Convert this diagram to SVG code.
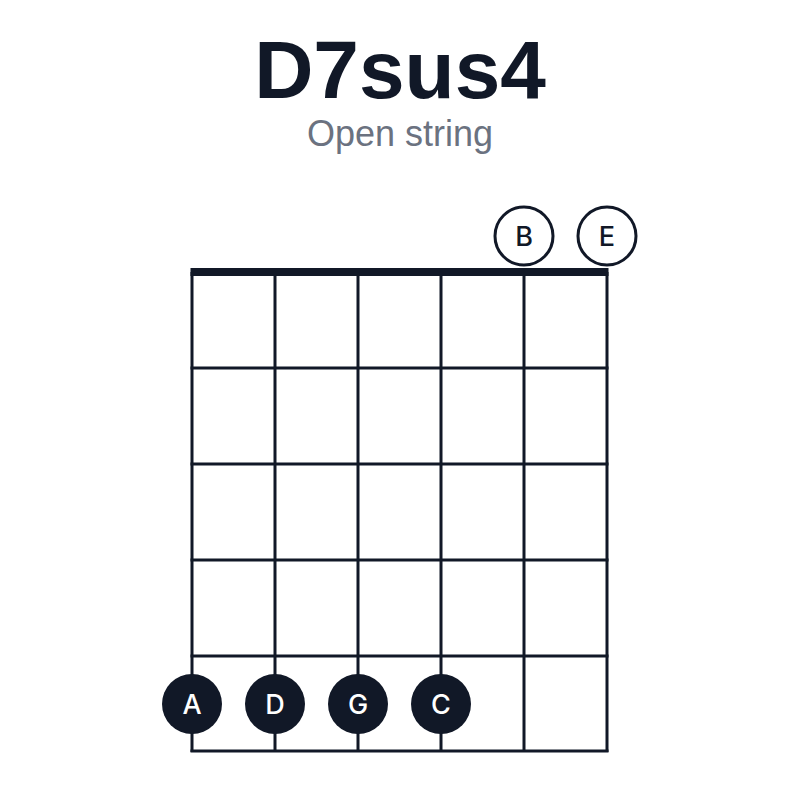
<svg xmlns="http://www.w3.org/2000/svg" width="800" height="800" viewBox="0 0 800 800">
<style>
.t{font-family:"Liberation Sans",Arial,sans-serif;text-anchor:middle}
.n{font-family:Inter,"Liberation Sans",Arial,sans-serif;text-anchor:middle;font-weight:500;font-size:27px}
.grid line{stroke:#111827;stroke-width:3}
.open circle{fill:#fff;stroke:#111827;stroke-width:3}
.open text{fill:#111827}
.fret circle{fill:#111827}
.fret text{fill:#fff}
</style>
<rect width="800" height="800" fill="#fff"/>
<text class="t" x="400" y="98" font-size="82" font-weight="bold" fill="#111827">D7sus4</text>
<text class="t" x="400" y="146" font-size="36" fill="#6b7280">Open string</text>
<g id="grid" class="grid">
<line x1="192" y1="272" x2="192" y2="752"/>
<line x1="275" y1="272" x2="275" y2="752"/>
<line x1="358" y1="272" x2="358" y2="752"/>
<line x1="441" y1="272" x2="441" y2="752"/>
<line x1="524" y1="272" x2="524" y2="752"/>
<line x1="607" y1="272" x2="607" y2="752"/>
<line x1="190.5" y1="368" x2="608.5" y2="368"/>
<line x1="190.5" y1="464" x2="608.5" y2="464"/>
<line x1="190.5" y1="560" x2="608.5" y2="560"/>
<line x1="190.5" y1="656" x2="608.5" y2="656"/>
<line x1="190.5" y1="751" x2="608.5" y2="751"/>
<line x1="190.5" y1="272" x2="608.5" y2="272" style="stroke-width:8"/>
</g>
<g id="open-B" class="open"><circle cx="524" cy="236" r="29"/><text class="n" x="524" y="246">B</text></g>
<g id="open-E" class="open"><circle cx="607" cy="236" r="29"/><text class="n" x="607" y="246">E</text></g>
<g id="note-A" class="fret"><circle cx="192" cy="704" r="30"/><text class="n" x="192" y="714">A</text></g>
<g id="note-D" class="fret"><circle cx="275" cy="704" r="30"/><text class="n" x="275" y="714">D</text></g>
<g id="note-G" class="fret"><circle cx="358" cy="704" r="30"/><text class="n" x="358" y="714">G</text></g>
<g id="note-C" class="fret"><circle cx="441" cy="704" r="30"/><text class="n" x="441" y="714">C</text></g>
</svg>
